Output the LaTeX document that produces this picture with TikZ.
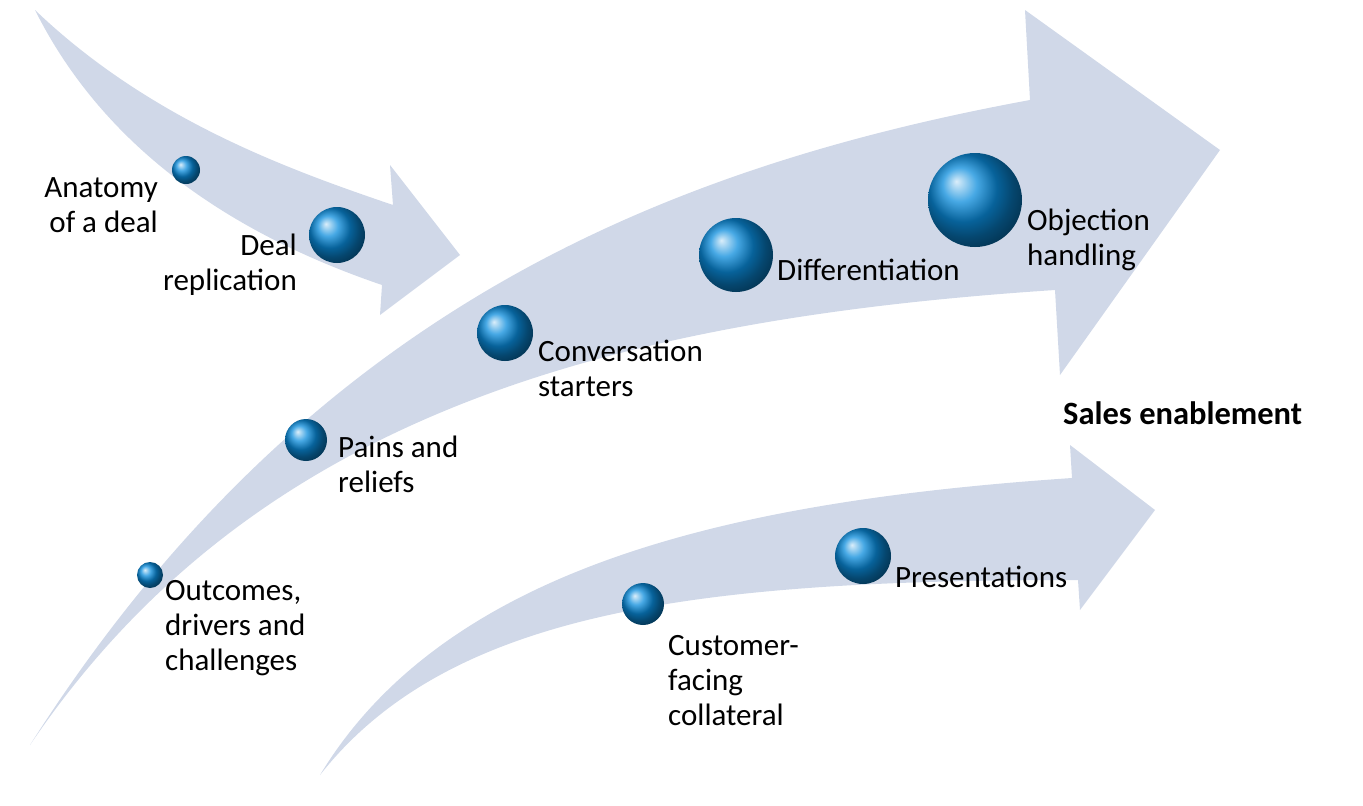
\documentclass[tikz,border=0pt]{standalone}
\usepackage{fontspec}
\setmainfont{Carlito}
\begin{document}
\begin{tikzpicture}[x=1pt,y=-1pt,
  arr/.style={fill=arrowc, draw=none},
  ball/.style={circle, draw=none, ball color=ballc, shading=ball, inner sep=0pt},
  lbl/.style={font=\fontsize{31}{35}\selectfont, inner sep=0pt}]
\definecolor{arrowc}{RGB}{208,216,232}
\definecolor{ballc}{RGB}{10,140,220}
\useasboundingbox (0,0) rectangle (1363,806);
% small top-left arrow
\path[arr] (35,10) .. controls (150,120) and (290,170) .. (393,205)
  -- (390,165) -- (460,255) -- (380,315) -- (382,285)
  .. controls (250,240) and (110,160) .. (35,10) -- cycle;
% big arrow
\path[arr] (30,745) .. controls (300,320) and (650,170) .. (1030,100)
  -- (1025,10) -- (1220,150) -- (1060,375) -- (1055,290)
  .. controls (600,320) and (250,420) .. (30,745) -- cycle;
% bottom arrow
\path[arr] (320,775) .. controls (450,560) and (750,500) .. (1072,478)
  -- (1070,445) -- (1155,510) -- (1080,610) -- (1078,580)
  .. controls (700,580) and (450,610) .. (320,775) -- cycle;
% balls
\node[ball, minimum size=28pt] (b1) at (186,170) {};
\node[ball, minimum size=56pt] (b2) at (337,235) {};
\node[ball, minimum size=26pt] (b3) at (150,575) {};
\node[ball, minimum size=42pt] (b4) at (306,440) {};
\node[ball, minimum size=56pt] (b5) at (505,333) {};
\node[ball, minimum size=74pt] (b6) at (736,255) {};
\node[ball, minimum size=94pt] (b7) at (975,200) {};
\node[ball, minimum size=42pt] (b8) at (643,604) {};
\node[ball, minimum size=56pt] (b9) at (863,556) {};
% labels
\node[lbl, align=right, anchor=east] (t1) at (158,205) {Anatomy\\of a deal};
\node[lbl, align=right, anchor=east] (t2) at (297,265) {Deal\\replication};
\node[lbl, align=left, anchor=west] (t3) at (165,628) {Outcomes,\\drivers and\\challenges};
\node[lbl, align=left, anchor=west] (t4) at (338,464) {Pains and\\reliefs};
\node[lbl, align=left, anchor=west] (t5) at (538,368) {Conversation\\starters};
\node[lbl, align=left, anchor=west] (t6) at (777,270) {Differentiation};
\node[lbl, align=left, anchor=west] (t7) at (1027,240) {Objection\\handling};
\node[lbl, align=left, anchor=west] (t8) at (668,681) {Customer-\\facing\\collateral};
\node[lbl, align=left, anchor=west] (t9) at (895,577) {Presentations};
\node[lbl, font=\fontsize{32.5}{36}\selectfont\bfseries, anchor=west] (t10) at (1063,413) {Sales enablement};
\end{tikzpicture}
\end{document}
